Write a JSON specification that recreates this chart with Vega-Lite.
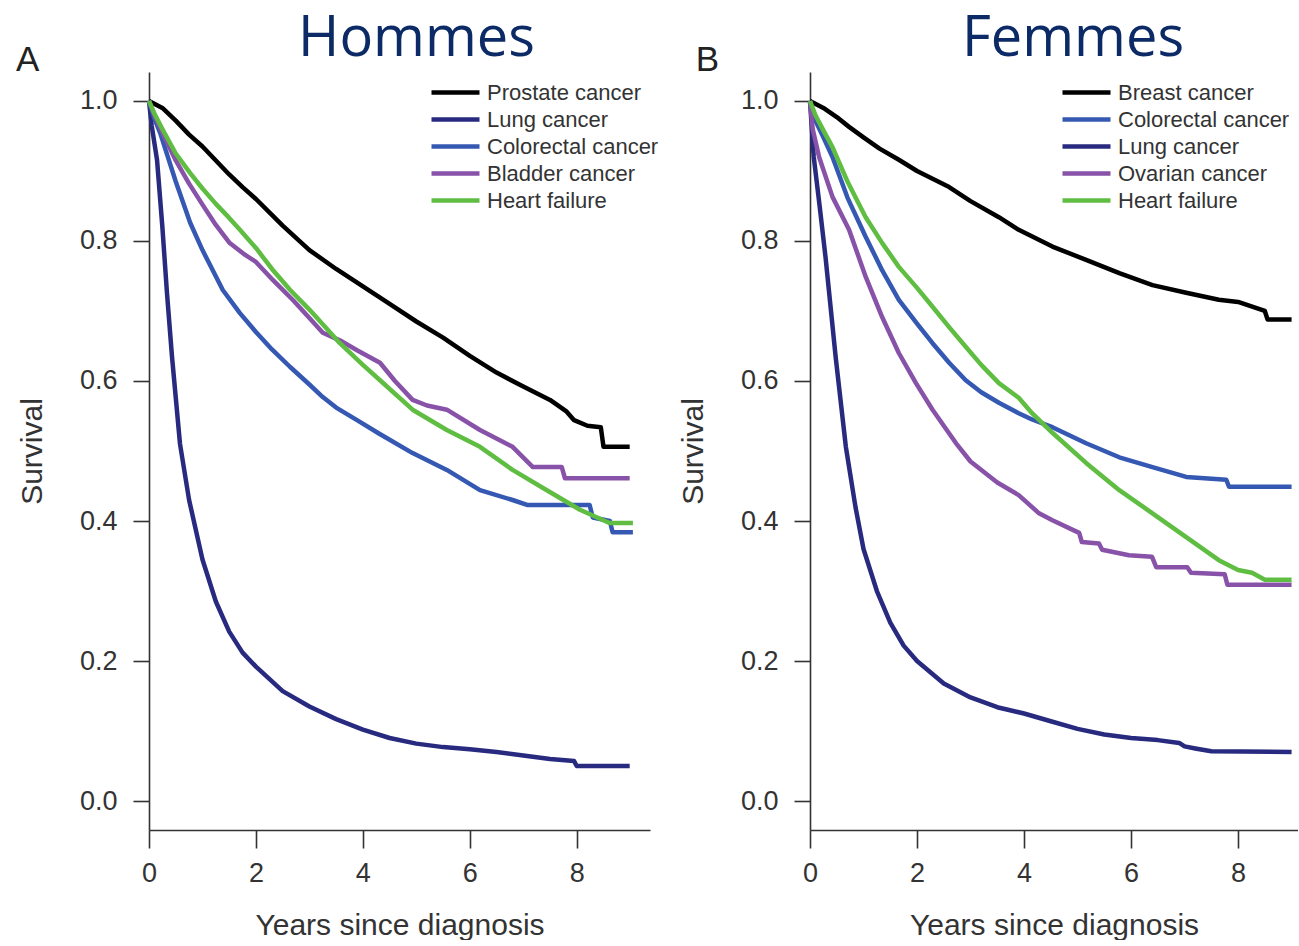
{
  "$schema": "https://vega.github.io/schema/vega-lite/v6.json",
  "padding": {"left": 15, "top": 10, "right": 0, "bottom": 0},
  "background": "white",
  "datasets": {
    "men": [
      {"c":"Prostate cancer","t":0,"s":1},{"c":"Prostate cancer","t":0.25,"s":0.99},{"c":"Prostate cancer","t":0.5,"s":0.972},{"c":"Prostate cancer","t":0.75,"s":0.952},{"c":"Prostate cancer","t":1,"s":0.935},{"c":"Prostate cancer","t":1.25,"s":0.915},{"c":"Prostate cancer","t":1.5,"s":0.895},{"c":"Prostate cancer","t":1.75,"s":0.877},{"c":"Prostate cancer","t":2,"s":0.86},{"c":"Prostate cancer","t":2.5,"s":0.822},{"c":"Prostate cancer","t":3,"s":0.787},{"c":"Prostate cancer","t":3.5,"s":0.76},{"c":"Prostate cancer","t":4,"s":0.735},{"c":"Prostate cancer","t":4.5,"s":0.71},{"c":"Prostate cancer","t":5,"s":0.685},{"c":"Prostate cancer","t":5.5,"s":0.662},{"c":"Prostate cancer","t":6,"s":0.636},{"c":"Prostate cancer","t":6.5,"s":0.612},{"c":"Prostate cancer","t":7,"s":0.592},{"c":"Prostate cancer","t":7.5,"s":0.573},{"c":"Prostate cancer","t":7.8,"s":0.557},{"c":"Prostate cancer","t":7.95,"s":0.544},{"c":"Prostate cancer","t":8.2,"s":0.536},{"c":"Prostate cancer","t":8.45,"s":0.534},{"c":"Prostate cancer","t":8.5,"s":0.506},{"c":"Prostate cancer","t":8.99,"s":0.506},
      {"c":"Lung cancer","t":0,"s":1},{"c":"Lung cancer","t":0.05,"s":0.965},{"c":"Lung cancer","t":0.15,"s":0.916},{"c":"Lung cancer","t":0.25,"s":0.82},{"c":"Lung cancer","t":0.336,"s":0.726},{"c":"Lung cancer","t":0.43,"s":0.635},{"c":"Lung cancer","t":0.58,"s":0.51},{"c":"Lung cancer","t":0.75,"s":0.43},{"c":"Lung cancer","t":1,"s":0.345},{"c":"Lung cancer","t":1.25,"s":0.285},{"c":"Lung cancer","t":1.5,"s":0.242},{"c":"Lung cancer","t":1.75,"s":0.212},{"c":"Lung cancer","t":2,"s":0.192},{"c":"Lung cancer","t":2.5,"s":0.157},{"c":"Lung cancer","t":3,"s":0.135},{"c":"Lung cancer","t":3.5,"s":0.117},{"c":"Lung cancer","t":4,"s":0.102},{"c":"Lung cancer","t":4.5,"s":0.09},{"c":"Lung cancer","t":5,"s":0.082},{"c":"Lung cancer","t":5.5,"s":0.077},{"c":"Lung cancer","t":6,"s":0.074},{"c":"Lung cancer","t":6.5,"s":0.07},{"c":"Lung cancer","t":7,"s":0.065},{"c":"Lung cancer","t":7.5,"s":0.06},{"c":"Lung cancer","t":7.95,"s":0.057},{"c":"Lung cancer","t":8,"s":0.05},{"c":"Lung cancer","t":8.99,"s":0.05},
      {"c":"Colorectal cancer","t":0,"s":1},{"c":"Colorectal cancer","t":0.1,"s":0.975},{"c":"Colorectal cancer","t":0.21,"s":0.954},{"c":"Colorectal cancer","t":0.5,"s":0.885},{"c":"Colorectal cancer","t":0.77,"s":0.826},{"c":"Colorectal cancer","t":1,"s":0.787},{"c":"Colorectal cancer","t":1.38,"s":0.73},{"c":"Colorectal cancer","t":1.7,"s":0.697},{"c":"Colorectal cancer","t":2,"s":0.67},{"c":"Colorectal cancer","t":2.3,"s":0.645},{"c":"Colorectal cancer","t":2.64,"s":0.62},{"c":"Colorectal cancer","t":3,"s":0.595},{"c":"Colorectal cancer","t":3.25,"s":0.577},{"c":"Colorectal cancer","t":3.5,"s":0.562},{"c":"Colorectal cancer","t":3.89,"s":0.544},{"c":"Colorectal cancer","t":4.3,"s":0.525},{"c":"Colorectal cancer","t":4.93,"s":0.497},{"c":"Colorectal cancer","t":5.57,"s":0.473},{"c":"Colorectal cancer","t":6.19,"s":0.444},{"c":"Colorectal cancer","t":6.8,"s":0.43},{"c":"Colorectal cancer","t":7.07,"s":0.423},{"c":"Colorectal cancer","t":8.24,"s":0.423},{"c":"Colorectal cancer","t":8.3,"s":0.405},{"c":"Colorectal cancer","t":8.62,"s":0.4},{"c":"Colorectal cancer","t":8.67,"s":0.384},{"c":"Colorectal cancer","t":9.05,"s":0.384},
      {"c":"Bladder cancer","t":0,"s":1},{"c":"Bladder cancer","t":0.1,"s":0.98},{"c":"Bladder cancer","t":0.25,"s":0.955},{"c":"Bladder cancer","t":0.5,"s":0.915},{"c":"Bladder cancer","t":0.75,"s":0.882},{"c":"Bladder cancer","t":1,"s":0.852},{"c":"Bladder cancer","t":1.25,"s":0.823},{"c":"Bladder cancer","t":1.51,"s":0.797},{"c":"Bladder cancer","t":1.8,"s":0.78},{"c":"Bladder cancer","t":2,"s":0.77},{"c":"Bladder cancer","t":2.32,"s":0.744},{"c":"Bladder cancer","t":2.7,"s":0.715},{"c":"Bladder cancer","t":3,"s":0.69},{"c":"Bladder cancer","t":3.25,"s":0.669},{"c":"Bladder cancer","t":3.6,"s":0.657},{"c":"Bladder cancer","t":3.89,"s":0.644},{"c":"Bladder cancer","t":4.32,"s":0.626},{"c":"Bladder cancer","t":4.6,"s":0.6},{"c":"Bladder cancer","t":4.93,"s":0.573},{"c":"Bladder cancer","t":5.2,"s":0.565},{"c":"Bladder cancer","t":5.57,"s":0.559},{"c":"Bladder cancer","t":6.19,"s":0.53},{"c":"Bladder cancer","t":6.8,"s":0.506},{"c":"Bladder cancer","t":7.18,"s":0.477},{"c":"Bladder cancer","t":7.72,"s":0.477},{"c":"Bladder cancer","t":7.78,"s":0.461},{"c":"Bladder cancer","t":8.99,"s":0.461},
      {"c":"Heart failure","t":0,"s":1},{"c":"Heart failure","t":0.1,"s":0.982},{"c":"Heart failure","t":0.25,"s":0.96},{"c":"Heart failure","t":0.5,"s":0.925},{"c":"Heart failure","t":0.77,"s":0.897},{"c":"Heart failure","t":1,"s":0.875},{"c":"Heart failure","t":1.25,"s":0.853},{"c":"Heart failure","t":1.5,"s":0.833},{"c":"Heart failure","t":1.7,"s":0.816},{"c":"Heart failure","t":2,"s":0.79},{"c":"Heart failure","t":2.3,"s":0.76},{"c":"Heart failure","t":2.64,"s":0.73},{"c":"Heart failure","t":3,"s":0.702},{"c":"Heart failure","t":3.57,"s":0.654},{"c":"Heart failure","t":4,"s":0.623},{"c":"Heart failure","t":4.32,"s":0.601},{"c":"Heart failure","t":4.93,"s":0.559},{"c":"Heart failure","t":5.57,"s":0.53},{"c":"Heart failure","t":6.19,"s":0.506},{"c":"Heart failure","t":6.8,"s":0.473},{"c":"Heart failure","t":7.44,"s":0.444},{"c":"Heart failure","t":8.06,"s":0.416},{"c":"Heart failure","t":8.56,"s":0.399},{"c":"Heart failure","t":8.62,"s":0.397},{"c":"Heart failure","t":9.05,"s":0.397}
    ],
    "women": [
      {"c":"Breast cancer","t":0,"s":1},{"c":"Breast cancer","t":0.25,"s":0.99},{"c":"Breast cancer","t":0.5,"s":0.977},{"c":"Breast cancer","t":0.73,"s":0.963},{"c":"Breast cancer","t":1,"s":0.948},{"c":"Breast cancer","t":1.3,"s":0.932},{"c":"Breast cancer","t":1.66,"s":0.916},{"c":"Breast cancer","t":2,"s":0.9},{"c":"Breast cancer","t":2.6,"s":0.877},{"c":"Breast cancer","t":3,"s":0.857},{"c":"Breast cancer","t":3.53,"s":0.834},{"c":"Breast cancer","t":3.9,"s":0.816},{"c":"Breast cancer","t":4.53,"s":0.792},{"c":"Breast cancer","t":5.16,"s":0.773},{"c":"Breast cancer","t":5.78,"s":0.754},{"c":"Breast cancer","t":6.4,"s":0.737},{"c":"Breast cancer","t":7.03,"s":0.726},{"c":"Breast cancer","t":7.64,"s":0.716},{"c":"Breast cancer","t":8,"s":0.713},{"c":"Breast cancer","t":8.5,"s":0.7},{"c":"Breast cancer","t":8.55,"s":0.688},{"c":"Breast cancer","t":9,"s":0.688},
      {"c":"Colorectal cancer","t":0,"s":1},{"c":"Colorectal cancer","t":0.1,"s":0.972},{"c":"Colorectal cancer","t":0.25,"s":0.948},{"c":"Colorectal cancer","t":0.42,"s":0.92},{"c":"Colorectal cancer","t":0.7,"s":0.862},{"c":"Colorectal cancer","t":1.04,"s":0.806},{"c":"Colorectal cancer","t":1.35,"s":0.758},{"c":"Colorectal cancer","t":1.66,"s":0.716},{"c":"Colorectal cancer","t":2,"s":0.682},{"c":"Colorectal cancer","t":2.29,"s":0.654},{"c":"Colorectal cancer","t":2.6,"s":0.626},{"c":"Colorectal cancer","t":2.91,"s":0.601},{"c":"Colorectal cancer","t":3.2,"s":0.584},{"c":"Colorectal cancer","t":3.53,"s":0.569},{"c":"Colorectal cancer","t":3.9,"s":0.554},{"c":"Colorectal cancer","t":4.15,"s":0.545},{"c":"Colorectal cancer","t":4.53,"s":0.534},{"c":"Colorectal cancer","t":5.16,"s":0.511},{"c":"Colorectal cancer","t":5.78,"s":0.491},{"c":"Colorectal cancer","t":6.4,"s":0.477},{"c":"Colorectal cancer","t":7.03,"s":0.463},{"c":"Colorectal cancer","t":7.78,"s":0.459},{"c":"Colorectal cancer","t":7.83,"s":0.449},{"c":"Colorectal cancer","t":9,"s":0.449},
      {"c":"Lung cancer","t":0,"s":1},{"c":"Lung cancer","t":0.07,"s":0.92},{"c":"Lung cancer","t":0.18,"s":0.85},{"c":"Lung cancer","t":0.29,"s":0.777},{"c":"Lung cancer","t":0.48,"s":0.634},{"c":"Lung cancer","t":0.67,"s":0.506},{"c":"Lung cancer","t":0.85,"s":0.42},{"c":"Lung cancer","t":1,"s":0.36},{"c":"Lung cancer","t":1.25,"s":0.3},{"c":"Lung cancer","t":1.5,"s":0.255},{"c":"Lung cancer","t":1.75,"s":0.222},{"c":"Lung cancer","t":2,"s":0.2},{"c":"Lung cancer","t":2.5,"s":0.168},{"c":"Lung cancer","t":3,"s":0.148},{"c":"Lung cancer","t":3.5,"s":0.134},{"c":"Lung cancer","t":4,"s":0.125},{"c":"Lung cancer","t":4.5,"s":0.114},{"c":"Lung cancer","t":5,"s":0.103},{"c":"Lung cancer","t":5.5,"s":0.095},{"c":"Lung cancer","t":6,"s":0.09},{"c":"Lung cancer","t":6.5,"s":0.087},{"c":"Lung cancer","t":6.9,"s":0.083},{"c":"Lung cancer","t":7,"s":0.078},{"c":"Lung cancer","t":7.2,"s":0.075},{"c":"Lung cancer","t":7.5,"s":0.071},{"c":"Lung cancer","t":9,"s":0.07},
      {"c":"Ovarian cancer","t":0,"s":1},{"c":"Ovarian cancer","t":0.05,"s":0.96},{"c":"Ovarian cancer","t":0.17,"s":0.92},{"c":"Ovarian cancer","t":0.42,"s":0.863},{"c":"Ovarian cancer","t":0.73,"s":0.816},{"c":"Ovarian cancer","t":1.04,"s":0.749},{"c":"Ovarian cancer","t":1.35,"s":0.691},{"c":"Ovarian cancer","t":1.66,"s":0.64},{"c":"Ovarian cancer","t":1.98,"s":0.597},{"c":"Ovarian cancer","t":2.29,"s":0.559},{"c":"Ovarian cancer","t":2.73,"s":0.511},{"c":"Ovarian cancer","t":3,"s":0.485},{"c":"Ovarian cancer","t":3.5,"s":0.455},{"c":"Ovarian cancer","t":3.9,"s":0.437},{"c":"Ovarian cancer","t":4.28,"s":0.411},{"c":"Ovarian cancer","t":4.53,"s":0.401},{"c":"Ovarian cancer","t":5.03,"s":0.383},{"c":"Ovarian cancer","t":5.08,"s":0.37},{"c":"Ovarian cancer","t":5.4,"s":0.368},{"c":"Ovarian cancer","t":5.46,"s":0.359},{"c":"Ovarian cancer","t":5.96,"s":0.351},{"c":"Ovarian cancer","t":6.39,"s":0.349},{"c":"Ovarian cancer","t":6.47,"s":0.334},{"c":"Ovarian cancer","t":7.05,"s":0.334},{"c":"Ovarian cancer","t":7.12,"s":0.326},{"c":"Ovarian cancer","t":7.75,"s":0.324},{"c":"Ovarian cancer","t":7.8,"s":0.309},{"c":"Ovarian cancer","t":9,"s":0.309},
      {"c":"Heart failure","t":0,"s":1},{"c":"Heart failure","t":0.1,"s":0.98},{"c":"Heart failure","t":0.25,"s":0.958},{"c":"Heart failure","t":0.42,"s":0.934},{"c":"Heart failure","t":0.7,"s":0.885},{"c":"Heart failure","t":1.04,"s":0.834},{"c":"Heart failure","t":1.35,"s":0.797},{"c":"Heart failure","t":1.66,"s":0.763},{"c":"Heart failure","t":2,"s":0.733},{"c":"Heart failure","t":2.29,"s":0.706},{"c":"Heart failure","t":2.6,"s":0.677},{"c":"Heart failure","t":2.91,"s":0.649},{"c":"Heart failure","t":3.2,"s":0.623},{"c":"Heart failure","t":3.53,"s":0.597},{"c":"Heart failure","t":3.9,"s":0.576},{"c":"Heart failure","t":4.15,"s":0.554},{"c":"Heart failure","t":4.53,"s":0.526},{"c":"Heart failure","t":5.16,"s":0.483},{"c":"Heart failure","t":5.78,"s":0.444},{"c":"Heart failure","t":6.4,"s":0.411},{"c":"Heart failure","t":7.03,"s":0.377},{"c":"Heart failure","t":7.64,"s":0.344},{"c":"Heart failure","t":8,"s":0.33},{"c":"Heart failure","t":8.26,"s":0.326},{"c":"Heart failure","t":8.5,"s":0.316},{"c":"Heart failure","t":9,"s":0.316}
    ]
  },
  "hconcat": [
    {
      "width": 501,
      "height": 758,
      "title": {"text": "Hommes", "dx": 17},
      "layer": [
        {
          "data": {"name": "men"},
          "mark": {"type": "line", "strokeWidth": 4.5, "strokeJoin": "round"},
          "encoding": {
            "x": {"field": "t", "type": "quantitative", "scale": {"domain": [0, 9.37], "nice": false, "zero": false}, "axis": {"title": "Years since diagnosis", "values": [0, 2, 4, 6, 8], "format": "d"}},
            "y": {"field": "s", "type": "quantitative", "scale": {"domain": [-0.0414, 1.0414], "nice": false, "zero": false}, "axis": {"title": "Survival", "values": [0, 0.2, 0.4, 0.6, 0.8, 1], "format": ".1f"}},
            "color": {"field": "c", "type": "nominal", "sort": null,
              "scale": {"domain": ["Prostate cancer", "Lung cancer", "Colorectal cancer", "Bladder cancer", "Heart failure"], "range": ["#000000", "#272a7e", "#3558b2", "#8752a8", "#5fbd42"]},
              "legend": {"orient": "none", "legendX": 280, "legendY": 7}}
          }
        },
        {
          "data": {"values": [{}]},
          "mark": {"type": "text", "font": "Liberation Sans", "fontSize": 35, "color": "#222222", "align": "center", "baseline": "middle"},
          "encoding": {"x": {"datum": -2.27}, "y": {"datum": 1.059}, "text": {"value": "A"}}
        }
      ]
    },
    {
      "width": 488,
      "height": 758,
      "title": {"text": "Femmes", "dx": 19},
      "layer": [
        {
          "data": {"name": "women"},
          "mark": {"type": "line", "strokeWidth": 4.5, "strokeJoin": "round"},
          "encoding": {
            "x": {"field": "t", "type": "quantitative", "scale": {"domain": [0, 9.12], "nice": false, "zero": false}, "axis": {"title": "Years since diagnosis", "values": [0, 2, 4, 6, 8], "format": "d"}},
            "y": {"field": "s", "type": "quantitative", "scale": {"domain": [-0.0414, 1.0414], "nice": false, "zero": false}, "axis": {"title": "Survival", "values": [0, 0.2, 0.4, 0.6, 0.8, 1], "format": ".1f"}},
            "color": {"field": "c", "type": "nominal", "sort": null,
              "scale": {"domain": ["Breast cancer", "Colorectal cancer", "Lung cancer", "Ovarian cancer", "Heart failure"], "range": ["#000000", "#3558b2", "#272a7e", "#8752a8", "#5fbd42"]},
              "legend": {"orient": "none", "legendX": 250, "legendY": 7}}
          }
        },
        {
          "data": {"values": [{}]},
          "mark": {"type": "text", "font": "Liberation Sans", "fontSize": 35, "color": "#222222", "align": "center", "baseline": "middle"},
          "encoding": {"x": {"datum": -1.916}, "y": {"datum": 1.059}, "text": {"value": "B"}}
        }
      ]
    }
  ],
  "spacing": 19,
  "resolve": {"scale": {"color": "independent"}, "legend": {"color": "independent"}},
  "config": {
    "view": {"stroke": null},
    "font": "Liberation Sans",
    "title": {"font": "Open Sans", "fontSize": 56, "fontWeight": "normal", "color": "#0b2a66", "baseline": "alphabetic", "offset": -25, "anchor": "middle", "frame": "group"},
    "axis": {
      "grid": false,
      "domainColor": "#333333", "domainWidth": 1.6,
      "tickColor": "#333333", "tickWidth": 1.6,
      "labelFont": "Liberation Sans", "labelFontSize": 27, "labelColor": "#333333", "labelFlush": false,
      "titleFont": "Liberation Sans", "titleFontSize": 30, "titleFontWeight": "normal", "titleColor": "#333333"
    },
    "axisX": {"tickSize": 18, "labelPadding": 12, "titlePadding": 24},
    "axisY": {"tickSize": 16, "labelPadding": 16, "titlePadding": 32},
    "legend": {
      "title": null, "padding": 0, "symbolType": "stroke", "symbolSize": 2304, "symbolStrokeWidth": 4.5,
      "labelFont": "Liberation Sans", "labelFontSize": 22, "labelColor": "#333333", "labelOffset": 5,
      "clipHeight": 27, "rowPadding": 0, "labelLimit": 400
    }
  }
}
